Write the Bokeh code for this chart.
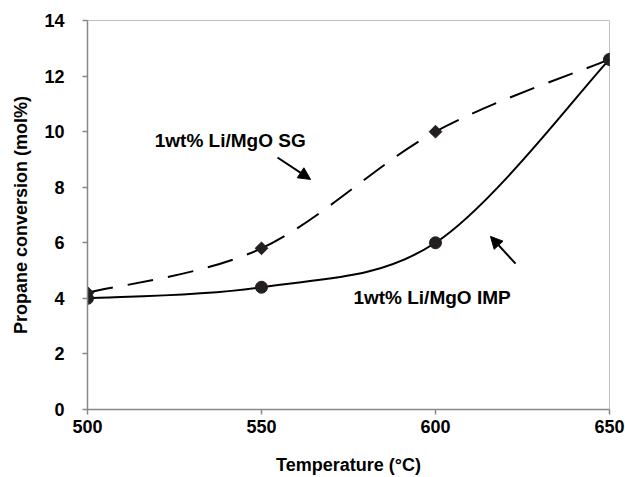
import math
from bokeh.plotting import figure
from bokeh.models import Range1d, FixedTicker, Label, Arrow, NormalHead, ColumnDataSource
from bokeh.embed import file_html
from bokeh.resources import INLINE

temps = [500, 550, 600, 650]
sg_vals = [4.2, 5.8, 10.0, 12.6]
imp_vals = [4.0, 4.4, 6.0, 12.6]
y_ticks = [0, 2, 4, 6, 8, 10, 12, 14]
x_ticks = [500, 550, 600, 650]

FONT = "Liberation Sans"


def smooth_segments(xs, ys):
    # Catmull-Rom style control points (Excel-like smoothed line)
    n = len(xs)
    px = [xs[0]] + list(xs) + [xs[-1]]
    py = [ys[0]] + list(ys) + [ys[-1]]
    d = dict(x0=[], y0=[], x1=[], y1=[], cx0=[], cy0=[], cx1=[], cy1=[])
    for i in range(n - 1):
        j = i + 1
        d["x0"].append(px[j]); d["y0"].append(py[j])
        d["x1"].append(px[j + 1]); d["y1"].append(py[j + 1])
        d["cx0"].append(px[j] + (px[j + 1] - px[j - 1]) / 6)
        d["cy0"].append(py[j] + (py[j + 1] - py[j - 1]) / 6)
        d["cx1"].append(px[j + 1] - (px[j + 2] - px[j]) / 6)
        d["cy1"].append(py[j + 1] - (py[j + 2] - py[j]) / 6)
    return ColumnDataSource(d)


p = figure(width=625, height=477, output_backend="svg", toolbar_location=None,
           x_range=Range1d(500, 650), y_range=Range1d(0, 14),
           min_border_left=87, min_border_right=16, min_border_top=20, min_border_bottom=68)
p.xgrid.visible = False
p.ygrid.visible = False
p.outline_line_color = "#bfbfbf"
p.outline_line_width = 1
p.background_fill_color = "white"
p.border_fill_color = "white"

for ax in (p.xaxis, p.yaxis):
    ax.axis_line_color = "#888888"
    ax.axis_line_width = 1.5
    ax.major_tick_line_color = "#888888"
    ax.major_tick_line_width = 1.5
    ax.major_tick_in = 0
    ax.major_tick_out = 5
    ax.minor_tick_line_color = None
    ax.major_label_text_font = FONT
    ax.major_label_text_font_style = "bold"
    ax.major_label_text_font_size = "18px"
    ax.major_label_text_color = "black"
    ax.axis_label_text_font = FONT
    ax.axis_label_text_font_style = "bold"
    ax.axis_label_text_font_size = "18px"
    ax.axis_label_text_color = "black"

p.xaxis.ticker = FixedTicker(ticks=x_ticks)
p.yaxis.ticker = FixedTicker(ticks=y_ticks)
p.xaxis.axis_label = "Temperature (°C)"
p.yaxis.axis_label = "Propane conversion (mol%)"
p.xaxis.major_label_standoff = 5
p.yaxis.major_label_standoff = 18
p.xaxis.axis_label_standoff = 19
p.yaxis.axis_label_standoff = 10

sg_src = smooth_segments(temps, sg_vals)
imp_src = smooth_segments(temps, imp_vals)

p.bezier(x0="x0", y0="y0", x1="x1", y1="y1", cx0="cx0", cy0="cy0", cx1="cx1", cy1="cy1",
         source=sg_src, line_color="black", line_width=2, line_dash="26 15")
p.bezier(x0="x0", y0="y0", x1="x1", y1="y1", cx0="cx0", cy0="cy0", cx1="cx1", cy1="cy1",
         source=imp_src, line_color="black", line_width=2)

p.scatter(temps, sg_vals, marker="square", angle=math.pi / 4, size=9, color="#231f20")
p.scatter(temps, imp_vals, marker="circle", size=12, color="#231f20")

p.add_layout(Label(x=541, y=9.68, text="1wt% Li/MgO SG", text_font=FONT, text_font_style="bold",
                   text_font_size="19px", text_align="center", text_baseline="middle",
                   text_color="black"))
p.add_layout(Label(x=599, y=4.03, text="1wt% Li/MgO IMP", text_font=FONT, text_font_style="bold",
                   text_font_size="19px", text_align="center", text_baseline="middle",
                   text_color="black"))

p.add_layout(Arrow(end=NormalHead(size=12, fill_color="black", line_color="black"),
                   x_start=554.6, y_start=9.07, x_end=564.1, y_end=8.28,
                   line_color="black", line_width=2))
p.add_layout(Arrow(end=NormalHead(size=12, fill_color="black", line_color="black"),
                   x_start=623.0, y_start=5.25, x_end=615.8, y_end=6.23,
                   line_color="black", line_width=2))

open("out.html", "w").write(file_html(p, INLINE))
